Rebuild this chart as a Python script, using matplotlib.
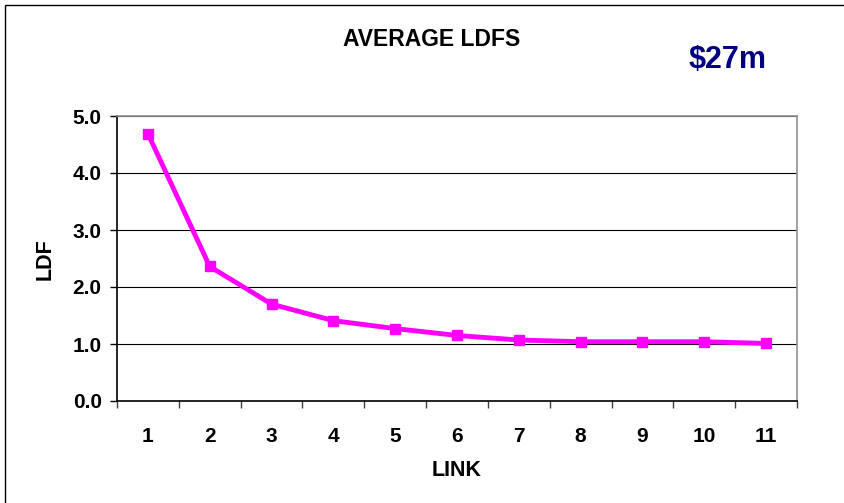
import matplotlib.pyplot as plt
from matplotlib.patches import Rectangle

# average link development factors
links = [1, 2, 3, 4, 5, 6, 7, 8, 9, 10, 11]
ldfs = [4.69, 2.36, 1.70, 1.41, 1.27, 1.15, 1.07, 1.04, 1.04, 1.04, 1.01]
yticks = [0.0, 1.0, 2.0, 3.0, 4.0, 5.0]

plt.rcParams['font.family'] = ['Liberation Sans', 'DejaVu Sans']
plt.rcParams['font.weight'] = 'bold'

fig = plt.figure(figsize=(8.44, 5.03), dpi=100)
ax = fig.add_axes([117/844, 102/503, 680/844, 285/503])

ax.plot(links, ldfs, color='#FF00FF', linewidth=3.5, marker='s',
        markersize=7, clip_on=False, zorder=3)

ax.set_xlim(0.5, 11.5)
ax.set_ylim(0, 5)
ax.set_yticks(yticks)
ax.set_yticklabels(['%.1f' % v for v in yticks])
ax.grid(axis='y', color='black', linewidth=0.8)

# ticks between categories, labels centred on them
ax.set_xticks([i + 0.5 for i in range(0, 12)])
ax.set_xticklabels([])
ax.set_xticks(links, minor=True)
ax.set_xticklabels([str(i) for i in links], minor=True)
ax.tick_params(axis='x', which='major', length=5, width=1, color='#404040')
ax.tick_params(axis='x', which='minor', length=0, pad=19, labelsize=15)
ax.tick_params(axis='y', length=5, width=1, pad=6, labelsize=15)

for s in ['top', 'right']:
    ax.spines[s].set_color('#909090')
    ax.spines[s].set_linewidth(1.2)
for s in ['left', 'bottom']:
    ax.spines[s].set_color('black')
    ax.spines[s].set_linewidth(1.2)

fig.text(45.5/844, 1 - 259/503, 'LDF', ha='center', va='center',
         rotation=90, fontsize=15.5, fontweight='bold')
fig.text(457/844, 1 - 470/503, 'LINK', ha='center', va='center',
         fontsize=15.5, fontweight='bold')
fig.text(432/844, 1 - 39.5/503, 'AVERAGE LDFS', ha='center', va='center',
         fontsize=16.5, fontweight='bold')
fig.text(728/844, 1 - 60/503, '$27m', ha='center', va='center',
         fontsize=22, fontweight='bold', color='#000080')

# chart frame
fig.patches.append(Rectangle((5/844, -0.1), 1.0, 1 - 5/503 + 0.1,
                             transform=fig.transFigure, fill=False,
                             edgecolor='black', linewidth=1))

fig.savefig('out.png', dpi=100)
